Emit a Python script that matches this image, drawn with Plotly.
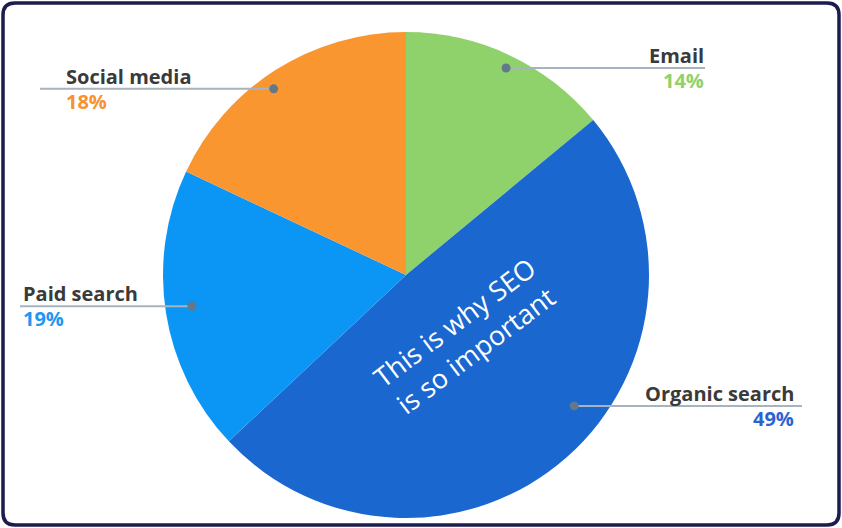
import math
import plotly.graph_objects as go

# ---- data ----
channels = ["Email", "Organic search", "Paid search", "Social media"]
shares = [14, 49, 19, 18]
slice_colors = ["#8fd16a", "#1a67cf", "#0b96f6", "#f9962f"]
pct_colors = ["#8fd16a", "#2b63d3", "#1f97f2", "#f7922e"]
center_note = "This is why SEO<br>is so important"

# ---- layout (pixels) ----
W, H = 842, 528
CX, CY, R = 406, 275, 243

# label layout: dot angle nudge (deg), dot radius fraction, line end x, text anchor x, alignment
label_layout = {
    "Email":          dict(nudge=0.6,  frac=0.946, line_end=705, tx=706, side="right"),
    "Organic search": dict(nudge=-10.7, frac=0.877, line_end=802, tx=796, side="right"),
    "Paid search":    dict(nudge=0.7,  frac=0.89,  line_end=20,  tx=21,  side="left"),
    "Social media":   dict(nudge=-3.0, frac=0.94,  line_end=40,  tx=64,  side="left"),
}


def px(x):
    return x / W


def py(y):
    return 1 - y / H


fig = go.Figure()
fig.add_trace(go.Pie(
    labels=channels,
    values=shares,
    sort=False,
    direction="clockwise",
    rotation=0,
    marker=dict(colors=slice_colors, line=dict(width=0)),
    textinfo="none",
    hoverinfo="label+percent",
    showlegend=False,
    domain=dict(x=[(CX - R) / W, (CX + R) / W], y=[(H - CY - R) / H, (H - CY + R) / H]),
))

shapes = []
annotations = []

# rounded frame
x0, y0, x1, y1, rad = 3, 3, 839, 525, 12
rx, ry = rad / W, rad / H
path = (
    f"M {px(x0)+rx},{py(y0)} L {px(x1)-rx},{py(y0)} Q {px(x1)},{py(y0)} {px(x1)},{py(y0)-ry} "
    f"L {px(x1)},{py(y1)+ry} Q {px(x1)},{py(y1)} {px(x1)-rx},{py(y1)} "
    f"L {px(x0)+rx},{py(y1)} Q {px(x0)},{py(y1)} {px(x0)},{py(y1)+ry} "
    f"L {px(x0)},{py(y0)-ry} Q {px(x0)},{py(y0)} {px(x0)+rx},{py(y0)} Z"
)
shapes.append(dict(type="path", path=path, xref="paper", yref="paper",
                   line=dict(color="#1c1c4e", width=3.5), fillcolor="rgba(0,0,0,0)", layer="above"))

total = sum(shares)
start = 0.0
for name, val, pc in zip(channels, shares, pct_colors):
    span = 360.0 * val / total
    mid = start + span / 2
    start += span
    cfg = label_layout[name]
    ang = math.radians(mid + cfg["nudge"])
    dx = CX + cfg["frac"] * R * math.sin(ang)
    dy = CY - cfg["frac"] * R * math.cos(ang)
    # leader line
    shapes.append(dict(type="line", xref="paper", yref="paper",
                       x0=px(dx), y0=py(dy), x1=px(cfg["line_end"]), y1=py(dy),
                       line=dict(color="#a7b3bf", width=2), layer="above"))
    # dot
    shapes.append(dict(type="circle", xref="paper", yref="paper",
                       x0=px(dx - 4.5), x1=px(dx + 4.5), y0=py(dy + 4.5), y1=py(dy - 4.5),
                       fillcolor="#64788d", line=dict(width=0), layer="above"))
    xa = "right" if cfg["side"] == "right" else "left"
    annotations.append(dict(x=px(cfg["tx"]), y=py(dy + 3), xref="paper", yref="paper",
                            text=f"<b>{name}</b>", showarrow=False, xanchor=xa, yanchor="bottom",
                            font=dict(family="Open Sans", size=20, color="#3a3a3a")))
    annotations.append(dict(x=px(cfg["tx"]), y=py(dy - 3), xref="paper", yref="paper",
                            text=f"<b>{val}%</b>", showarrow=False, xanchor=xa, yanchor="top",
                            font=dict(family="Open Sans", size=20, color=pc)))

annotations.append(dict(x=px(465), y=py(336), xref="paper", yref="paper",
                        text=center_note, showarrow=False, textangle=-37,
                        font=dict(family="Open Sans", size=27, color="white")))

fig.update_layout(
    width=W, height=H,
    margin=dict(l=0, r=0, t=0, b=0),
    paper_bgcolor="white",
    plot_bgcolor="white",
    shapes=shapes,
    annotations=annotations,
)

fig.write_html("out.html", config={"displayModeBar": False},
               post_script="document.body.style.margin='0px';")
